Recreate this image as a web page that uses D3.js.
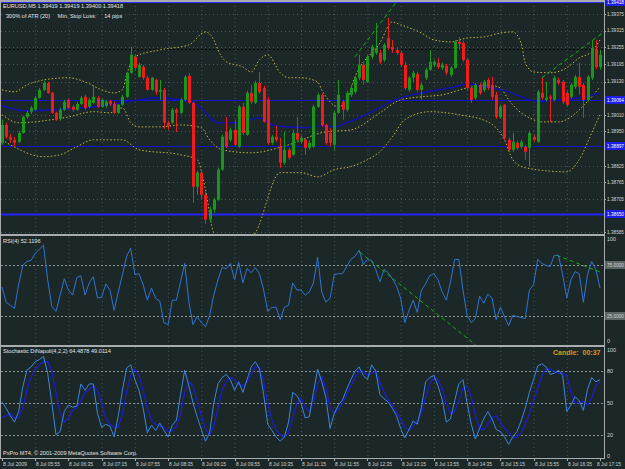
<!DOCTYPE html>
<html><head><meta charset="utf-8">
<script src="https://cdn.jsdelivr.net/npm/d3@7/dist/d3.min.js"></script>
<style>
body{margin:0;background:#1c2828;overflow:hidden}
svg text{font-family:"Liberation Sans",Arial,sans-serif}
</style></head><body>
<svg id="chart" width="625" height="469"></svg>
<script>
// EURUSD M5 candles, 8 Jul 2009 05:15 .. 17:15
var opens = [1.38908,1.38973,1.38930,1.38919,1.38912,1.38944,1.39002,1.39021,1.39028,1.39071,
  1.39100,1.39125,1.39089,1.39017,1.38995,1.39028,1.39064,1.39039,1.39028,1.39049,
  1.39075,1.39039,1.39053,1.39071,1.39039,1.39042,1.39060,1.39049,1.39017,1.39046,
  1.39075,1.39162,1.39220,1.39147,1.39183,1.39144,1.39100,1.39136,1.39093,1.39100,
  1.38981,1.38981,1.39028,1.39017,1.39064,1.39151,1.39053,1.38749,1.38800,1.38720,
  1.38630,1.38666,1.38702,1.38811,1.38948,1.38919,1.38955,1.38894,1.39039,1.38937,
  1.39089,1.39053,1.39125,1.39107,1.39064,1.38908,1.38930,1.38894,1.38836,1.38883,
  1.38865,1.38944,1.38912,1.38919,1.38890,1.38894,1.39039,1.39082,1.38973,1.38944,
  1.38901,1.39017,1.39057,1.39028,1.39082,1.39093,1.39144,1.39191,1.39129,1.39220,
  1.39234,1.39234,1.39209,1.39288,1.39256,1.39245,1.39234,1.39191,1.39100,1.39144,
  1.39158,1.39100,1.39144,1.39173,1.39191,1.39198,1.39180,1.39187,1.39154,1.39180,
  1.39274,1.39270,1.39209,1.39107,1.39071,1.39118,1.39100,1.39136,1.39118,1.39082,
  1.39002,1.39046,1.38919,1.38883,1.38908,1.38894,1.38894,1.38890,1.38930,1.38912,
  1.39089,1.39064,1.39075,1.39064,1.39136,1.39129,1.39089,1.39075,1.39111,1.39147,
  1.39118,1.39064,1.39144,1.39249,1.39183];
var highs = [1.38992,1.38981,1.38941,1.38930,1.38952,1.39006,1.39024,1.39042,1.39078,1.39107,
  1.39133,1.39129,1.39093,1.39021,1.39035,1.39064,1.39068,1.39046,1.39057,1.39078,
  1.39082,1.39071,1.39118,1.39078,1.39068,1.39064,1.39064,1.39057,1.39049,1.39082,
  1.39165,1.39256,1.39227,1.39198,1.39191,1.39151,1.39147,1.39140,1.39136,1.39107,
  1.38988,1.39035,1.39035,1.39071,1.39154,1.39162,1.39057,1.38807,1.38811,1.38731,
  1.38677,1.38709,1.38818,1.38937,1.39002,1.38963,1.38992,1.39046,1.39053,1.39097,
  1.39118,1.39133,1.39165,1.39115,1.39075,1.38937,1.38970,1.38926,1.38948,1.38890,
  1.38955,1.39002,1.38934,1.38926,1.38916,1.39046,1.39089,1.39086,1.38977,1.38963,
  1.39024,1.39136,1.39064,1.39097,1.39118,1.39151,1.39227,1.39198,1.39227,1.39263,
  1.39343,1.39245,1.39270,1.39361,1.39281,1.39252,1.39241,1.39202,1.39151,1.39169,
  1.39165,1.39125,1.39180,1.39245,1.39209,1.39216,1.39198,1.39194,1.39187,1.39281,
  1.39292,1.39278,1.39216,1.39115,1.39125,1.39125,1.39136,1.39144,1.39147,1.39093,
  1.39046,1.39049,1.38926,1.38944,1.38916,1.38919,1.38901,1.38952,1.38937,1.39100,
  1.39147,1.39129,1.39082,1.39151,1.39144,1.39136,1.39097,1.39125,1.39154,1.39198,
  1.39125,1.39154,1.39281,1.39281,1.39245];
var lows = [1.38901,1.38923,1.38908,1.38894,1.38908,1.38941,1.38995,1.39013,1.39024,1.39068,
  1.39097,1.39086,1.39013,1.38988,1.38988,1.39024,1.39031,1.39021,1.39024,1.39046,
  1.39028,1.39035,1.39049,1.39035,1.39035,1.39035,1.39042,1.39013,1.39013,1.39042,
  1.39071,1.39158,1.39173,1.39144,1.39136,1.39097,1.39097,1.39082,1.39064,1.38959,
  1.38955,1.38977,1.38948,1.39013,1.39060,1.39049,1.38691,1.38720,1.38702,1.38615,
  1.38622,1.38655,1.38698,1.38807,1.38890,1.38912,1.38897,1.38890,1.38937,1.38934,
  1.39049,1.39049,1.39086,1.38981,1.38901,1.38901,1.38912,1.38818,1.38829,1.38847,
  1.38861,1.38912,1.38905,1.38865,1.38883,1.38890,1.39035,1.38966,1.38901,1.38894,
  1.38883,1.39013,1.38992,1.39021,1.39075,1.39086,1.39136,1.39118,1.39125,1.39212,
  1.39227,1.39194,1.39202,1.39245,1.39234,1.39227,1.39183,1.39100,1.39093,1.39129,
  1.39093,1.39064,1.39136,1.39169,1.39183,1.39176,1.39173,1.39154,1.39147,1.39176,
  1.39245,1.39202,1.39100,1.39053,1.39064,1.39082,1.39093,1.39100,1.39064,1.38995,
  1.38995,1.38919,1.38876,1.38876,1.38883,1.38887,1.38847,1.38822,1.38912,1.38908,
  1.39064,1.39057,1.38984,1.39060,1.39118,1.39049,1.39039,1.39068,1.39104,1.39082,
  1.38999,1.39057,1.39136,1.39176,1.39173];
var closes = [1.38973,1.38930,1.38919,1.38908,1.38944,1.39002,1.39017,1.39035,1.39071,1.39100,
  1.39125,1.39089,1.39017,1.38992,1.39028,1.39057,1.39035,1.39028,1.39049,1.39071,
  1.39035,1.39064,1.39075,1.39039,1.39064,1.39057,1.39049,1.39017,1.39046,1.39075,
  1.39162,1.39227,1.39180,1.39191,1.39144,1.39100,1.39144,1.39093,1.39100,1.38981,
  1.38970,1.39028,1.39017,1.39064,1.39147,1.39053,1.38749,1.38800,1.38720,1.38630,
  1.38666,1.38702,1.38811,1.38930,1.38894,1.38955,1.38901,1.39039,1.38944,1.39089,
  1.39057,1.39125,1.39093,1.38984,1.38908,1.38930,1.38919,1.38836,1.38883,1.38854,
  1.38944,1.38919,1.38926,1.38890,1.38908,1.39039,1.39082,1.38973,1.38908,1.38908,
  1.39017,1.39082,1.39028,1.39089,1.39107,1.39144,1.39191,1.39136,1.39220,1.39256,
  1.39252,1.39202,1.39263,1.39252,1.39245,1.39234,1.39191,1.39107,1.39144,1.39162,
  1.39100,1.39118,1.39173,1.39202,1.39202,1.39183,1.39191,1.39162,1.39180,1.39274,
  1.39267,1.39209,1.39107,1.39064,1.39118,1.39089,1.39129,1.39107,1.39075,1.39002,
  1.39039,1.38926,1.38883,1.38912,1.38890,1.38912,1.38876,1.38944,1.38919,1.39093,
  1.39071,1.39071,1.39068,1.39144,1.39125,1.39057,1.39046,1.39118,1.39147,1.39111,
  1.39064,1.39147,1.39252,1.39183,1.39227];

// moving average (read as knots: bar index, price)
var maBars = [0,6,12,24,33,37,43,47,49,52,57,62,65,69,73,77,80,83,86,89,93,96,101,105,109,112,115,118,122,125,127,130,134,139,144];
var maVals = [1.39042,1.39024,1.39028,1.39042,1.39064,1.39071,1.39064,1.39046,1.39017,1.38981,1.38981,1.38999,1.38973,1.38966,1.38963,1.38970,1.38966,1.38981,1.38999,1.39021,1.39053,1.39071,1.39089,1.39100,1.39111,1.39122,1.39115,1.39107,1.39093,1.39075,1.39064,1.39057,1.39064,1.39071,1.39089];

// envelope bands (knots: bar index, price)
var upBars = [0,3,6,10,16,20,24,27,29,30,32,38,45,49,51,52,54,58,60,62,64,67,69,72,76,77,81,83,85,91,94,96,101,104,108,112,116,120,123,125,126,128,132,136,139,142,144];
var upVals = [1.39100,1.39093,1.39118,1.39136,1.39144,1.39129,1.39100,1.39089,1.39100,1.39154,1.39220,1.39245,1.39263,1.39310,1.39281,1.39245,1.39202,1.39183,1.39165,1.39209,1.39227,1.39162,1.39144,1.39144,1.39129,1.39100,1.39039,1.39064,1.39147,1.39270,1.39346,1.39336,1.39306,1.39281,1.39274,1.39288,1.39292,1.39306,1.39310,1.39270,1.39198,1.39165,1.39162,1.39180,1.39216,1.39238,1.39281];
var midBars = [0,4,12,16,22,26,29,31,33,38,43,48,50,53,60,69,78,84,91,96,101,106,112,117,120,122,125,127,130,134,137,139,142,144];
var midVals = [1.39010,1.38981,1.38992,1.39002,1.39021,1.39017,1.39035,1.38981,1.38966,1.38966,1.38973,1.38963,1.38919,1.38883,1.38872,1.38901,1.38948,1.38955,1.39017,1.39064,1.39075,1.39082,1.39107,1.39118,1.39107,1.39064,1.39017,1.38999,1.38984,1.38984,1.39002,1.39028,1.39075,1.39111];
var dnBars = [0,2,10,14,18,22,29,33,43,47,49,51,56,61,67,72,76,80,84,88,91,94,97,103,110,117,121,123,126,136,139,142,144];
var dnVals = [1.38919,1.38901,1.38858,1.38865,1.38894,1.38919,1.38919,1.38883,1.38865,1.38847,1.38738,1.38582,1.38521,1.38582,1.38800,1.38800,1.38785,1.38811,1.38822,1.38847,1.38876,1.38930,1.38992,1.39021,1.39010,1.38984,1.38919,1.38847,1.38818,1.38803,1.38847,1.38944,1.39010];

// indicators
var rsi = [53,38,35,32,55,74,78,79,86,90,94,60,34,29,45,61,50,45,62,64,
  45,57,63,42,43,56,50,30,48,65,83,91,65,66,55,40,52,42,39,18,
  16,40,40,58,76,38,16,24,18,14,25,45,60,72,71,76,60,77,57,71,
  67,72,66,50,29,33,33,21,33,35,57,50,50,45,48,57,82,48,38,42,
  65,66,66,73,80,83,89,75,80,79,70,58,70,67,61,54,42,18,30,40,
  28,50,56,64,66,60,48,40,58,80,80,50,25,18,22,44,37,46,42,21,
  33,24,15,25,24,23,22,50,55,80,76,74,73,84,84,65,42,60,68,66,
  38,65,78,70,52];
var stochK = [51,45,38,32,42,65,81,84,89,91,94,78,50,20,23,42,48,46,47,68,
  62,68,68,40,27,30,28,18,38,62,83,86,72,62,45,22,29,24,31,24,
  18,29,34,58,81,66,50,37,25,14,22,50,68,74,77,72,62,70,60,72,
  84,89,82,58,30,24,18,14,18,32,60,57,50,36,37,60,82,70,55,26,
  40,48,53,63,72,80,84,76,72,86,80,58,54,51,45,38,26,17,25,33,
  30,46,70,74,76,66,53,32,35,52,68,72,50,30,16,26,35,42,35,25,
  23,18,11,18,23,33,45,60,72,85,87,84,77,78,81,76,42,48,56,52,
  43,63,74,70,72];
var stochD = [36,38,40,36,36,45,62,74,82,86,89,89,80,60,40,32,36,43,46,52,
  60,63,66,62,50,36,30,27,27,40,60,76,82,76,62,45,34,30,28,27,
  23,24,28,40,60,70,66,52,38,26,20,28,45,62,70,74,72,68,66,70,
  76,84,84,70,50,34,25,20,18,22,36,50,55,46,42,50,68,75,64,46,
  40,44,50,58,66,74,80,80,76,78,80,70,60,53,48,42,35,27,24,28,
  33,40,55,68,74,72,64,50,40,42,52,64,66,56,38,26,25,30,36,38,
  32,26,22,17,18,22,30,40,52,64,76,82,82,80,78,78,76,60,50,50,
  52,48,55,66,70];

var priceTicks = [1.39375,1.39315,1.39255,1.39195,1.39130,1.39010,1.38950,1.38825,1.38765,1.38705,1.38585];
var levelLines = [1.39418,1.39064,1.38897,1.38650];
var askLine = 1.39248;
var timeLabels = ["8 Jul 2009","8 Jul 05:55","8 Jul 06:35","8 Jul 07:15","8 Jul 07:55","8 Jul 08:35",
  "8 Jul 09:15","8 Jul 09:55","8 Jul 10:35","8 Jul 11:15","8 Jul 11:55","8 Jul 12:35","8 Jul 13:15",
  "8 Jul 13:55","8 Jul 14:35","8 Jul 15:15","8 Jul 15:55","8 Jul 16:35","8 Jul 17:15"];
var priceTrends = [[85,1.39220,95,1.39419],[130,1.39144,144.6,1.39306]];
var rsiTrends = [[86.2,87,114.1,-4],[133.6,84,144.4,67]];

var svg = d3.select('#chart');
var axisX = 604;
var panels = {main: [2, 234], rsi: [237, 345], sto: [347, 458]};

var x = d3.scaleLinear().domain([0, 144]).range([2, 600]);
var yP = d3.scaleLinear().domain([1.38585, 1.39375]).range([232, 14]);
var yR = d3.scaleLinear().domain([0, 100]).range([341, 239]);
var yS = d3.scaleLinear().domain([0, 100]).range([456, 350]);

svg.append('rect').attr('width', 625).attr('height', 469).attr('fill', '#1c2828');

var defs = svg.append('defs');
Object.keys(panels).forEach(function(k) {
  defs.append('clipPath').attr('id', 'clip-' + k)
    .append('rect').attr('x', 1).attr('y', panels[k][0])
    .attr('width', axisX - 1).attr('height', panels[k][1] - panels[k][0]);
});

var gridCol = '#4a5858';
// dotted grid
var grid = svg.append('g').attr('stroke', gridCol).attr('stroke-dasharray', '1,3');
timeLabels.forEach(function(t, k) {
  if (k == 0 || k == timeLabels.length - 1) return;
  Object.keys(panels).forEach(function(p) {
    grid.append('line').attr('x1', x(k * 8) + 0.5).attr('x2', x(k * 8) + 0.5)
      .attr('y1', panels[p][0]).attr('y2', panels[p][1]);
  });
});
priceTicks.forEach(function(p) {
  grid.append('line').attr('x1', 1).attr('x2', axisX)
    .attr('y1', Math.round(yP(p)) + 0.5).attr('y2', Math.round(yP(p)) + 0.5);
});

// main panel
var main = svg.append('g').attr('clip-path', 'url(#clip-main)');

main.append('line').attr('x1', 1).attr('x2', axisX)
  .attr('y1', Math.round(yP(askLine)) + 0.5).attr('y2', Math.round(yP(askLine)) + 0.5)
  .attr('stroke', '#000').attr('stroke-dasharray', '2,2');

var levelCols = ['#3030ff', '#1414c8', '#1414c8', '#2424ff'];
levelLines.forEach(function(p, k) {
  main.append('line').attr('x1', 1).attr('x2', axisX)
    .attr('y1', Math.round(yP(p)) + 0.5).attr('y2', Math.round(yP(p)) + 0.5)
    .attr('stroke', levelCols[k]).attr('stroke-width', k == 3 ? 2 : 1);
});

var knotLine = d3.line().curve(d3.curveMonotoneX)
  .x(function(d) { return x(d[0]); }).y(function(d) { return yP(d[1]); });

function knots(bars, vals) { return bars.map(function(b, i) { return [b, vals[i]]; }); }

[[upBars, upVals], [midBars, midVals], [dnBars, dnVals]].forEach(function(b) {
  main.append('path').attr('d', knotLine(knots(b[0], b[1])))
    .attr('fill', 'none').attr('stroke', '#c8b43c').attr('stroke-width', 1)
    .attr('stroke-dasharray', '1.5,2');
});

main.append('path').attr('d', knotLine(knots(maBars, maVals)))
  .attr('fill', 'none').attr('stroke', '#1212a8').attr('stroke-width', 1.6);

// candles
var cg = main.append('g');
closes.forEach(function(c, i) {
  var o = opens[i], up = c >= o;
  var col = up ? '#1a961a' : '#f01c1c';
  var cx = Math.round(x(i));
  cg.append('line').attr('x1', cx + 0.5).attr('x2', cx + 0.5)
    .attr('y1', yP(highs[i])).attr('y2', yP(lows[i])).attr('stroke', col);
  var top = yP(Math.max(o, c)), bot = yP(Math.min(o, c));
  cg.append('rect').attr('x', cx - 1).attr('y', top)
    .attr('width', 3).attr('height', Math.max(1, bot - top)).attr('fill', col);
});

priceTrends.forEach(function(t) {
  main.append('line').attr('x1', x(t[0])).attr('y1', yP(t[1]))
    .attr('x2', x(t[2])).attr('y2', yP(t[3]))
    .attr('stroke', '#10b010').attr('stroke-dasharray', '4,3');
});

// RSI panel
var rg = svg.append('g').attr('clip-path', 'url(#clip-rsi)');
[75, 25].forEach(function(v) {
  rg.append('line').attr('x1', 1).attr('x2', axisX)
    .attr('y1', Math.round(yR(v)) + 0.5).attr('y2', Math.round(yR(v)) + 0.5)
    .attr('stroke', '#8a9494').attr('stroke-dasharray', '2,2');
});
var lineR = d3.line().x(function(d, i) { return x(i); }).y(function(d) { return yR(d); });
rg.append('path').attr('d', lineR(rsi)).attr('fill', 'none')
  .attr('stroke', '#2f74d0').attr('stroke-width', 1);
rsiTrends.forEach(function(t) {
  rg.append('line').attr('x1', x(t[0])).attr('y1', yR(t[1]))
    .attr('x2', x(t[2])).attr('y2', yR(t[3]))
    .attr('stroke', '#10b010').attr('stroke-dasharray', '4,3');
});

// Stochastic panel
var sg = svg.append('g').attr('clip-path', 'url(#clip-sto)');
[80, 50, 20].forEach(function(v) {
  sg.append('line').attr('x1', 1).attr('x2', axisX)
    .attr('y1', Math.round(yS(v)) + 0.5).attr('y2', Math.round(yS(v)) + 0.5)
    .attr('stroke', '#8a9494').attr('stroke-dasharray', '2,2');
});
var lineS = d3.line().x(function(d, i) { return x(i); }).y(function(d) { return yS(d); });
sg.append('path').attr('d', lineS(stochD)).attr('fill', 'none')
  .attr('stroke', '#1c1cd8').attr('stroke-width', 1.2);
sg.append('path').attr('d', lineS(stochK)).attr('fill', 'none')
  .attr('stroke', '#3a86e0').attr('stroke-width', 1);

// frames and separators
var frame = svg.append('g').attr('fill', '#a8acac');
frame.append('rect').attr('x', 0).attr('y', 0).attr('width', axisX + 1).attr('height', 2);
frame.append('rect').attr('x', 0).attr('y', 234).attr('width', axisX + 1).attr('height', 2);
frame.append('rect').attr('x', 0).attr('y', 345).attr('width', axisX + 1).attr('height', 2);
frame.append('rect').attr('x', 0).attr('y', 458).attr('width', axisX + 1).attr('height', 1);
frame.append('rect').attr('x', 0).attr('y', 0).attr('width', 1).attr('height', 459);
frame.append('rect').attr('x', axisX).attr('y', 0).attr('width', 1).attr('height', 459);

// right axis labels
var lab = svg.append('g').attr('font-size', '5.4px').attr('fill', '#d0d4d4');
function axisText(yy, s, col) {
  var t = lab.append('text').attr('x', 607).attr('y', yy).attr('dy', '0.35em').text(s);
  if (s.length > 4) t.attr('textLength', 17).attr('lengthAdjust', 'spacingAndGlyphs');
  if (col) t.attr('fill', col);
  return t;
}
priceTicks.forEach(function(p) {
  axisText(yP(p), p.toFixed(5));
  lab.append('line').attr('x1', axisX).attr('x2', axisX + 2).attr('y1', Math.round(yP(p)) + 0.5)
    .attr('y2', Math.round(yP(p)) + 0.5).attr('stroke', '#a8acac');
});
levelLines.forEach(function(p) {
  var yy = Math.round(yP(p));
  lab.append('rect').attr('x', axisX + 1).attr('y', yy - 4).attr('width', 20).attr('height', 8).attr('fill', '#1e1ee6');
  axisText(yy, p.toFixed(5), '#ffffff');
});
[100, 75, 25, 0].forEach(function(v) {
  var yy = Math.round(yR(v));
  if (v == 75 || v == 25) {
    lab.append('rect').attr('x', axisX + 1).attr('y', yy - 4).attr('width', 20).attr('height', 8).attr('fill', '#5c6666');
  }
  axisText(yy, v == 75 || v == 25 ? v.toFixed(4) : String(v));
});
[100, 80, 50, 20, 0].forEach(function(v) {
  axisText(yS(v), String(v));
});

// time axis
timeLabels.forEach(function(t, k) {
  var xx = Math.round(x(k * 8));
  lab.append('line').attr('x1', xx + 0.5).attr('x2', xx + 0.5).attr('y1', 458).attr('y2', 461)
    .attr('stroke', '#a8acac');
  lab.append('text').attr('x', k == timeLabels.length - 1 ? xx - 3 : xx + 1).attr('y', 466)
    .attr('textLength', 24).attr('lengthAdjust', 'spacingAndGlyphs').text(t);
});

// captions
var cap = svg.append('g').attr('font-size', '5.6px').attr('fill', '#e0e4e4');
cap.append('text').attr('x', 3).attr('y', 8).text('EURUSD,M5  1.39419 1.39419 1.39400 1.39418');
cap.append('text').attr('x', 6).attr('y', 18).attr('xml:space', 'preserve')
  .text('300% of ATR (20)     Min. Stop Loss:     14 pips');
cap.append('text').attr('x', 3).attr('y', 243).text('RSI(4) 52.1196');
cap.append('text').attr('x', 3).attr('y', 353).text('Stochastic DiNapoli(4,2,2) 64.4878 49.0114');
cap.append('text').attr('x', 3).attr('y', 455).text('PxPro MT4, \u00a9 2001-2009 MetaQuotes Software Corp.');
svg.append('text').attr('x', 553).attr('y', 355).attr('font-size', '7px').attr('font-weight', 'bold')
  .attr('fill', '#d89818').attr('xml:space', 'preserve').text('Candle:  00:37');
</script>
</body></html>
